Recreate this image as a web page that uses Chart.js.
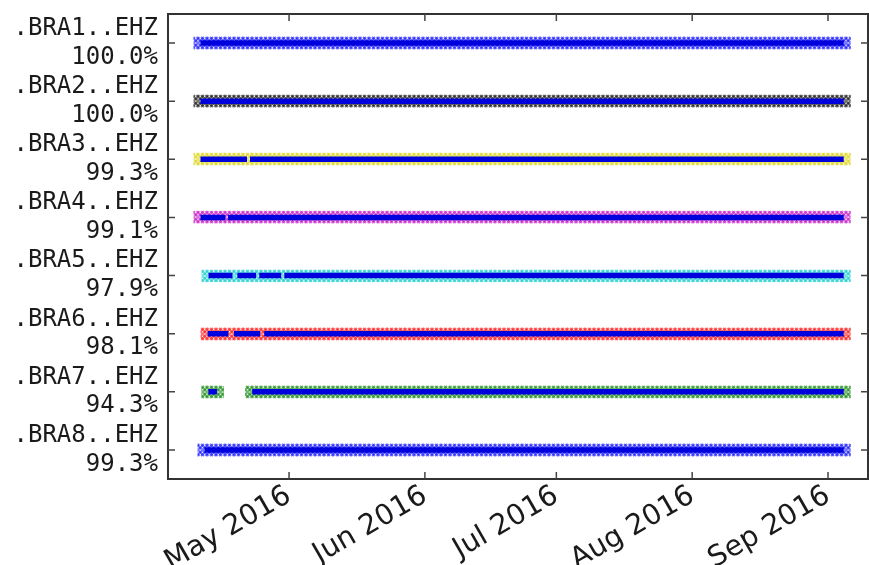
<!DOCTYPE html>
<html>
    <head>
        <meta charset="utf-8">
        <script src="https://cdn.jsdelivr.net/npm/chart.js@4.4.0/dist/chart.umd.min.js"></script>
        <style>
            html, body { margin: 0; padding: 0; background: #fff; overflow: hidden; }
        </style>
    </head>
    <body>
        <div style="width: 880px; height: 565px;">
            <canvas id="scan" width="880" height="565"></canvas>
        </div>
        <script>
            // station labels and availability shown next to each row
            var stations = [".BRA1..EHZ", ".BRA2..EHZ", ".BRA3..EHZ", ".BRA4..EHZ",
                            ".BRA5..EHZ", ".BRA6..EHZ", ".BRA7..EHZ", ".BRA8..EHZ"];
            var percents = ["100.0%", "100.0%", "99.3%", "99.1%", "97.9%", "98.1%", "94.3%", "99.3%"];

            // continuous data pieces per station (UTC)
            var coverage = [
                [["2016-04-10T19:00", "2016-09-04T14:00"]],
                [["2016-04-10T19:00", "2016-09-04T14:00"]],
                [["2016-04-10T19:00", "2016-04-21T10:00"], ["2016-04-22T02:00", "2016-09-04T14:00"]],
                [["2016-04-10T19:00", "2016-04-16T12:00"], ["2016-04-17T02:00", "2016-09-04T14:00"]],
                [["2016-04-12T15:00", "2016-04-18T02:00"], ["2016-04-19T05:00", "2016-04-23T12:00"],
                 ["2016-04-24T05:00", "2016-04-29T05:00"], ["2016-04-29T22:00", "2016-09-04T14:00"]],
                [["2016-04-12T10:00", "2016-04-17T04:00"], ["2016-04-18T10:00", "2016-04-24T10:00"],
                 ["2016-04-25T08:00", "2016-09-04T14:00"]],
                [["2016-04-12T14:00", "2016-04-14T13:00"], ["2016-04-22T14:00", "2016-09-04T14:00"]],
                [["2016-04-11T17:00", "2016-09-04T14:00"]]
            ];

            var monthTicks = ["2016-05-01", "2016-06-01", "2016-07-01", "2016-08-01", "2016-09-01"];
            var monthLabels = ["May 2016", "Jun 2016", "Jul 2016", "Aug 2016", "Sep 2016"];
            var xRange = ["2016-04-03T09:00", "2016-09-10T03:00"];

            // matplotlib classic colour cycle, bottom row first
            var markerColors = ["#0000ff", "#000000", "#d8d000", "#bf00bf", "#00c8c8", "#ff0000", "#008000", "#0000ff"];
            var coreColor = "#0000dc";

            function t(s) {
                return Date.parse(s.length == 10 ? s + "T00:00Z" : s + "Z");
            }

            // band of overlapping "x" markers, drawn as a patterned stroke
            function bandPattern(ctx) {
                var chart = ctx.chart, ds = ctx.dataset;
                var tile = document.createElement("canvas");
                tile.width = 9; tile.height = 16;
                var g = tile.getContext("2d");
                g.strokeStyle = ds.markerColor;
                g.globalAlpha = 0.55;
                g.lineWidth = 2;
                for (var cx = -9; cx <= 18; cx += 4.5) {
                    g.beginPath();
                    g.moveTo(cx - 6, 2); g.lineTo(cx + 6, 14);
                    g.moveTo(cx - 6, 14); g.lineTo(cx + 6, 2);
                    g.stroke();
                }
                var p = chart.ctx.createPattern(tile, "repeat");
                var y = chart.scales.y ? chart.scales.y.getPixelForValue(ds.row) : NaN;
                if (!isNaN(y)) p.setTransform(new DOMMatrix().translate(0, Math.round(y) - 8));
                return p;
            }

            var datasets = [];
            for (var i = 0; i < stations.length; i++) {
                var pts = [];
                coverage[i].forEach(function (seg) {
                    pts.push({ x: t(seg[0]), y: i + 1 });
                    pts.push({ x: t(seg[1]), y: i + 1 });
                    pts.push({ x: t(seg[1]), y: null });
                });
                datasets.push({
                    data: pts, row: i + 1, markerColor: markerColors[i],
                    borderColor: bandPattern, borderWidth: 14, borderCapStyle: "square",
                    pointRadius: 0, spanGaps: false, order: 1
                });
                datasets.push({
                    data: pts, borderColor: coreColor, borderWidth: 5.5, borderCapStyle: "butt",
                    pointRadius: 0, spanGaps: false, order: 0
                });
            }

            var framePlugin = {
                id: "frame",
                afterDraw: function (chart) {
                    var c = chart.ctx, a = chart.chartArea, sx = chart.scales.x, sy = chart.scales.y;
                    c.save();
                    c.strokeStyle = "#333";
                    c.lineWidth = 2;
                    c.strokeRect(a.left, a.top, a.right - a.left, a.bottom - a.top);
                    c.lineWidth = 1.5;
                    c.strokeStyle = "#444";
                    c.beginPath();
                    sx.ticks.forEach(function (tk) {
                        var x = sx.getPixelForValue(tk.value);
                        c.moveTo(x, a.bottom); c.lineTo(x, a.bottom - 7);
                        c.moveTo(x, a.top); c.lineTo(x, a.top + 7);
                    });
                    sy.ticks.forEach(function (tk) {
                        var y = sy.getPixelForValue(tk.value);
                        c.moveTo(a.left, y); c.lineTo(a.left + 7, y);
                        c.moveTo(a.right, y); c.lineTo(a.right - 7, y);
                    });
                    c.stroke();
                    c.restore();
                }
            };

            var ctx = document.getElementById("scan").getContext("2d");
            var chart = new Chart(ctx, {
                type: "line",
                data: { datasets: datasets },
                options: {
                    responsive: false,
                    devicePixelRatio: 1,
                    animation: false,
                    events: [],
                    layout: { padding: { top: 14, right: 12, left: 0, bottom: 0 } },
                    plugins: { legend: { display: false }, tooltip: { enabled: false } },
                    scales: {
                        x: {
                            type: "linear",
                            min: t(xRange[0]),
                            max: t(xRange[1]),
                            grid: { display: false, drawTicks: false },
                            border: { display: false },
                            afterBuildTicks: function (scale) {
                                scale.ticks = monthTicks.map(function (m) { return { value: t(m) }; });
                            },
                            afterFit: function (scale) {
                                scale.height = 86;
                                scale.paddingLeft = 0; scale.paddingRight = 0;
                            },
                            ticks: {
                                autoSkip: false,
                                minRotation: 30,
                                maxRotation: 30,
                                padding: 0,
                                color: "#1a1a1a",
                                font: { family: "DejaVu Sans", size: 28.5 },
                                callback: function (v) {
                                    var k = monthTicks.map(t).indexOf(v);
                                    return k >= 0 ? monthLabels[k] : "";
                                }
                            }
                        },
                        y: {
                            type: "linear",
                            min: 0.5,
                            max: 8.5,
                            reverse: true,
                            grid: { display: false, drawTicks: false },
                            border: { display: false },
                            afterBuildTicks: function (scale) {
                                scale.ticks = stations.map(function (s, k) { return { value: k + 1 }; });
                            },
                            afterFit: function (scale) {
                                scale.width = 168;
                                scale.paddingTop = 0; scale.paddingBottom = 0;
                            },
                            ticks: {
                                padding: 10,
                                color: "#1a1a1a",
                                font: { family: "DejaVu Sans Mono", size: 24, lineHeight: 1.2 },
                                callback: function (v) {
                                    return [stations[v - 1], percents[v - 1]];
                                }
                            }
                        }
                    }
                },
                plugins: [framePlugin]
            });
        </script>
    </body>
</html>
